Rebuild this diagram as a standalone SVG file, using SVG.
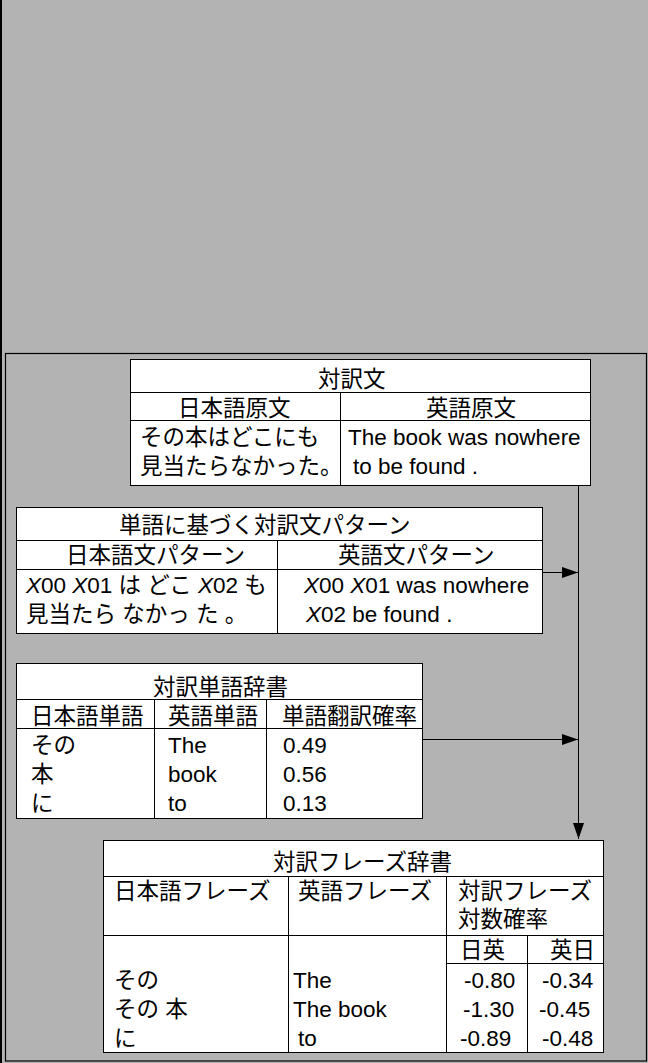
<svg xmlns="http://www.w3.org/2000/svg" width="648" height="1063" viewBox="0 0 648 1063">
<style>
text{font-family:'Liberation Sans','Noto Sans CJK JP',sans-serif;font-size:22.5px;fill:#000}
.box{fill:#fff;stroke:#000;stroke-width:1}
.ln{stroke:#000;stroke-width:1;fill:none}
.it{font-style:italic}
</style>
<defs>
<marker id="ah" markerUnits="userSpaceOnUse" markerWidth="17" markerHeight="12" refX="16" refY="5.5" orient="auto">
<path d="M0,0 L16,5.5 L0,11 z" fill="#000"/>
</marker>
</defs>
<rect x="0" y="0" width="648" height="1063" fill="#b3b3b3"/>
<rect x="0" y="0" width="2" height="1063" fill="#000"/>
<rect x="5.5" y="353.5" width="641" height="707.5" fill="none" stroke="#000" stroke-width="1.2"/>

<g id="connectors">
<line class="ln" x1="578.5" y1="485" x2="578.5" y2="839" marker-end="url(#ah)"/>
<line class="ln" x1="542" y1="572.5" x2="578" y2="572.5" marker-end="url(#ah)"/>
<line class="ln" x1="422" y1="739.5" x2="578" y2="739.5" marker-end="url(#ah)"/>
</g>

<g id="taiyakubun">
<rect class="box" x="130.5" y="359.5" width="460" height="126"/>
<line class="ln" x1="130.5" y1="392.5" x2="590.5" y2="392.5"/>
<line class="ln" x1="130.5" y1="420.5" x2="590.5" y2="420.5"/>
<line class="ln" x1="340.5" y1="392.5" x2="340.5" y2="485.5"/>
<text x="318" y="387">対訳文</text>
<text x="178" y="416">日本語原文</text>
<text x="426" y="416">英語原文</text>
<text x="140" y="445">その本はどこにも</text>
<text x="140" y="474">見当たらなかった。</text>
<text x="348" y="445">The book was nowhere</text>
<text x="353" y="474">to be found .</text>
</g>

<g id="pattern">
<rect class="box" x="16.5" y="507.5" width="526" height="126"/>
<line class="ln" x1="16.5" y1="540.5" x2="542.5" y2="540.5"/>
<line class="ln" x1="16.5" y1="569.5" x2="542.5" y2="569.5"/>
<line class="ln" x1="277.5" y1="540.5" x2="277.5" y2="633.5"/>
<text x="119" y="533">単語に基づく対訳文パターン</text>
<text x="66" y="563">日本語文パターン</text>
<text x="338" y="563">英語文パターン</text>
<text x="26" y="593"><tspan class="it">X</tspan>00 <tspan class="it">X</tspan>01 は どこ <tspan class="it">X</tspan>02 も</text>
<text x="26" y="622">見当たら なかっ た 。</text>
<text x="304" y="593"><tspan class="it">X</tspan>00 <tspan class="it">X</tspan>01 was nowhere</text>
<text x="306" y="622"><tspan class="it">X</tspan>02 be found .</text>
</g>

<g id="tango">
<rect class="box" x="16.5" y="663.5" width="406" height="155"/>
<line class="ln" x1="16.5" y1="699.5" x2="422.5" y2="699.5"/>
<line class="ln" x1="16.5" y1="728.5" x2="422.5" y2="728.5"/>
<line class="ln" x1="154.5" y1="699.5" x2="154.5" y2="818.5"/>
<line class="ln" x1="266.5" y1="699.5" x2="266.5" y2="818.5"/>
<text x="153" y="695">対訳単語辞書</text>
<text x="31" y="724">日本語単語</text>
<text x="168" y="724">英語単語</text>
<text x="282" y="724">単語翻訳確率</text>
<text x="31" y="753">その</text>
<text x="168" y="753">The</text>
<text x="283" y="753">0.49</text>
<text x="31" y="782">本</text>
<text x="168" y="782">book</text>
<text x="283" y="782">0.56</text>
<text x="31" y="811">に</text>
<text x="168" y="811">to</text>
<text x="283" y="811">0.13</text>
</g>

<g id="phrase">
<rect class="box" x="103.5" y="840.5" width="500" height="212"/>
<line class="ln" x1="103.5" y1="876.5" x2="603.5" y2="876.5"/>
<line class="ln" x1="103.5" y1="935.5" x2="603.5" y2="935.5"/>
<line class="ln" x1="446.5" y1="963.5" x2="603.5" y2="963.5"/>
<line class="ln" x1="288.5" y1="876.5" x2="288.5" y2="1052.5"/>
<line class="ln" x1="446.5" y1="876.5" x2="446.5" y2="1052.5"/>
<line class="ln" x1="527.5" y1="935.5" x2="527.5" y2="1052.5"/>
<text x="273" y="870">対訳フレーズ辞書</text>
<text x="114" y="899">日本語フレーズ</text>
<text x="298" y="899">英語フレーズ</text>
<text x="458" y="899">対訳フレーズ</text>
<text x="458" y="927">対数確率</text>
<text x="460" y="958">日英</text>
<text x="550" y="958">英日</text>
<text x="114" y="988">その</text>
<text x="293" y="988">The</text>
<text x="464" y="988">-0.80</text>
<text x="542" y="988">-0.34</text>
<text x="114" y="1017">その 本</text>
<text x="293" y="1017">The book</text>
<text x="463" y="1017">-1.30</text>
<text x="539" y="1017">-0.45</text>
<text x="114" y="1046">に</text>
<text x="298" y="1046">to</text>
<text x="460" y="1046">-0.89</text>
<text x="542" y="1046">-0.48</text>
</g>
</svg>
